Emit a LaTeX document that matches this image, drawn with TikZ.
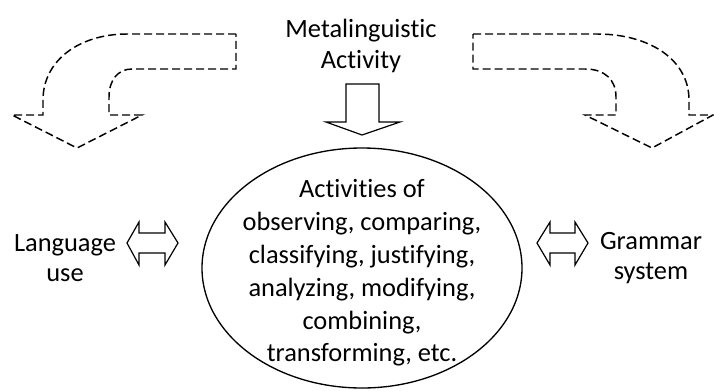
\documentclass[tikz,border=0pt]{standalone}
\usepackage{fontspec}
\setmainfont[Ligatures=NoCommon]{Carlito}
\usetikzlibrary{shapes.geometric}

\begin{document}
\begin{tikzpicture}[x=0.75pt,y=0.75pt,yscale=-1,xscale=1,
    lbl/.style={align=center,inner sep=0.75pt,font=\fontsize{19.8}{23}\selectfont},
    bentarrow/.style={line width=1.1pt,dash pattern={on 6pt off 3pt}},
    blockarrow/.style={line width=0.9pt,line join=miter}]
        \useasboundingbox (0,0) rectangle (714,390);

        %Shape: Bent Arrow [left]
        \draw [bentarrow] (236,34) -- (127,34) .. controls (80,34) and (43,60) .. (43,100) -- (43,115) -- (12,115) -- (77,148) -- (142,115) -- (109,115) -- (109,97) .. controls (109,80) and (118,69) .. (132,69) -- (236,69) -- cycle ;
        %Shape: Bent Arrow [right]
        \draw [bentarrow] (473,34) -- (597,34) .. controls (650,34) and (689,60) .. (689,100) -- (689,115) -- (713,115) -- (652,148) -- (585,115) -- (616,115) -- (616,97) .. controls (616,80) and (605,69) .. (585,69) -- (473,69) -- cycle ;

        % Text Node
        \node [lbl] (meta) at (361,46) {Metalinguistic\\Activity};
        %Shape: Down Arrow
        \draw [blockarrow] (346,84) -- (379,84) -- (379,122) -- (400,122) -- (362,135) -- (326,122) -- (346,122) -- cycle ;

        %Shape: Ellipse
        \node [draw,ellipse,line width=1pt,inner sep=0pt,minimum width=240pt,minimum height=180pt] (acts) at (362,268) {};
        % Text Node
        \node [lbl,font=\fontsize{19.8}{24.6}\selectfont] (actstxt) at (362,273)
              {Activities of\\observing, comparing,\\classifying, justifying,\\analyzing, modifying,\\combining,\\transforming, etc.};

        % Text Node
        \node [lbl] (use) at (65,258) {Language\\use};
        % Text Node
        \node [lbl] (gram) at (651,258) {Grammar\\system};
        %Shape: Left-Right Arrow
        \draw [blockarrow] (127,243) -- (139,222) -- (139,233) -- (165,233) -- (165,222) -- (178,243) -- (165,265) -- (165,253) -- (139,253) -- (139,265) -- cycle ;
        %Shape: Left-Right Arrow
        \draw [blockarrow] (537,243) -- (550,222) -- (550,233) -- (575,233) -- (575,222) -- (588,243) -- (575,265) -- (575,253) -- (550,253) -- (550,265) -- cycle ;

\end{tikzpicture}
\end{document}
